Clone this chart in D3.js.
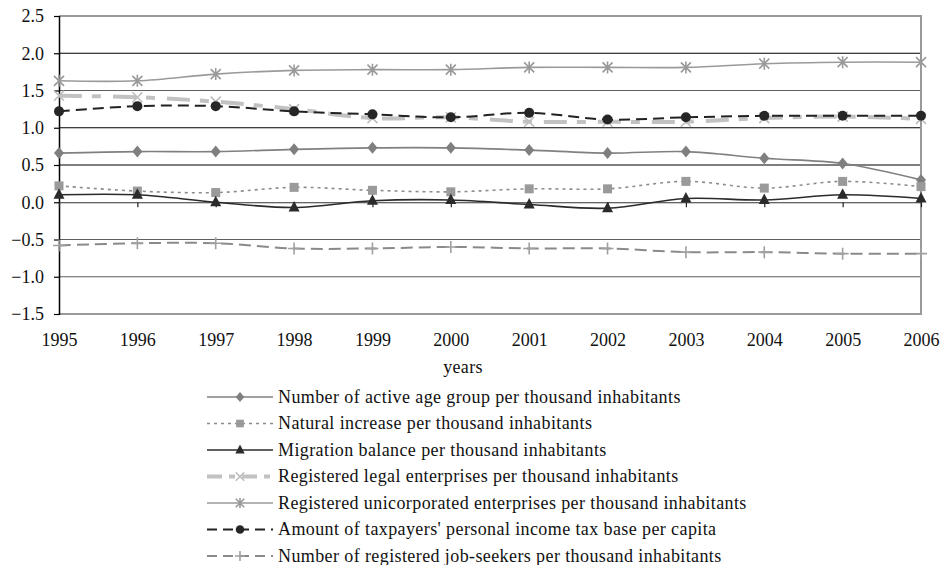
<!DOCTYPE html>
<html>
<head>
<meta charset="utf-8">
<script src="https://cdn.jsdelivr.net/npm/d3@7"></script>
<style>
  html, body { margin: 0; padding: 0; background: #fff; }
  svg { display: block; }
  svg text { font-family: "Liberation Serif", "Times New Roman", serif; }
</style>
</head>
<body>
<svg id="chart" width="942" height="565"></svg>
<script>
// Years on the horizontal axis
const years = [1995, 1996, 1997, 1998, 1999, 2000, 2001, 2002, 2003, 2004, 2005, 2006];

// Indicator series (relative values)
const activeAge      = [0.66, 0.68, 0.68, 0.71, 0.73, 0.73, 0.70, 0.66, 0.68, 0.59, 0.52, 0.30];
const naturalIncr    = [0.22, 0.15, 0.13, 0.20, 0.16, 0.14, 0.18, 0.18, 0.28, 0.19, 0.28, 0.21];
const migration      = [0.10, 0.10, 0.00, -0.07, 0.02, 0.03, -0.03, -0.08, 0.05, 0.03, 0.10, 0.05];
const legalEnt       = [1.43, 1.41, 1.35, 1.25, 1.13, 1.14, 1.08, 1.08, 1.08, 1.13, 1.15, 1.12];
const unincEnt       = [1.63, 1.63, 1.72, 1.77, 1.78, 1.78, 1.81, 1.81, 1.81, 1.86, 1.88, 1.88];
const taxBase        = [1.22, 1.29, 1.29, 1.22, 1.18, 1.14, 1.20, 1.11, 1.14, 1.16, 1.16, 1.16];
const jobSeekers     = [-0.58, -0.55, -0.55, -0.62, -0.62, -0.60, -0.62, -0.62, -0.67, -0.67, -0.69, -0.69];

const seriesNames = [
  "Number of active age group per thousand inhabitants",
  "Natural increase per thousand inhabitants",
  "Migration balance per thousand inhabitants",
  "Registered legal enterprises per thousand inhabitants",
  "Registered unicorporated enterprises per thousand inhabitants",
  "Amount of taxpayers' personal income tax base per capita",
  "Number of registered job-seekers per thousand inhabitants"
];

const yTicks = [-1.5, -1.0, -0.5, 0.0, 0.5, 1.0, 1.5, 2.0, 2.5];
const xTitle = "years";

// Visual styles per series
const styles = [
  { stroke: "#808080", width: 1.6, dash: null,         legendDash: null,       marker: "diamond",  mfill: "#7f7f7f", mstroke: "none" },
  { stroke: "#8c8c8c", width: 1.6, dash: "3,4",        legendDash: "3,4",      marker: "square",   mfill: "#9a9a9a", mstroke: "none" },
  { stroke: "#2b2b2b", width: 1.6, dash: null,         legendDash: null,       marker: "triangle", mfill: "#2b2b2b", mstroke: "none" },
  { stroke: "#c2c2c2", width: 4,   dash: "23,10,9,12", legendDash: "15,7,6,7", marker: "cross",    mfill: "none",    mstroke: "#bdbdbd" },
  { stroke: "#9a9a9a", width: 1.6, dash: null,         legendDash: null,       marker: "asterisk", mfill: "none",    mstroke: "#999999" },
  { stroke: "#222222", width: 2,   dash: "11,6",       legendDash: "10,6",     marker: "circle",   mfill: "#262626", mstroke: "none" },
  { stroke: "#8a8a8a", width: 2,   dash: "12,6",       legendDash: "10,6",     marker: "plus",     mfill: "none",    mstroke: "#a0a0a0" }
];

const seriesValues = [activeAge, naturalIncr, migration, legalEnt, unincEnt, taxBase, jobSeekers];
const series = seriesNames.map((name, i) => ({
  name,
  style: styles[i],
  points: years.map((yr, j) => ({ year: yr, value: seriesValues[i][j] }))
}));

const svg = d3.select("#chart");
const plot = { left: 59, right: 921, top: 16, bottom: 314 };
const serif = "'Liberation Serif', 'Times New Roman', serif";

const x = d3.scaleLinear().domain([1995, 2006]).range([plot.left, plot.right]);
const y = d3.scaleLinear().domain([-1.5, 2.5]).range([plot.bottom, plot.top]);

// Horizontal gridlines
const darkGrid = new Set([2.0, 1.0, 0.5]);
svg.append("g")
  .selectAll("line")
  .data(yTicks.filter(v => v > -1.5 && v < 2.5 && v !== 0))
  .join("line")
  .attr("x1", plot.left).attr("x2", plot.right)
  .attr("y1", d => y(d)).attr("y2", d => y(d))
  .attr("stroke", d => darkGrid.has(d) ? "#000" : "#5e5e5e")
  .attr("stroke-width", 1.2);

// Plot frame (top, right, bottom)
svg.append("path")
  .attr("d", `M${plot.left},${y(2.5)}H${plot.right}V${y(-1.5)}H${plot.left}`)
  .attr("fill", "none")
  .attr("stroke", "#999")
  .attr("stroke-width", 2);

// Y axis
const yAxis = d3.axisLeft(y)
  .tickValues(yTicks)
  .tickFormat(d3.format(".1f"))
  .tickSize(5)
  .tickPadding(10);
const gy = svg.append("g").attr("transform", `translate(${plot.left},0)`).call(yAxis)
  .attr("font-family", serif).attr("font-size", 18);
gy.select(".domain").attr("stroke", "#000").attr("stroke-width", 1.5).attr("d", `M0.5,${plot.top}V${plot.bottom + 1}`);
gy.selectAll(".tick line").attr("stroke", "#000").attr("stroke-width", 1.2);
gy.selectAll("text").attr("fill", "#111");

// Zero line with downward year ticks
const gz = svg.append("g").attr("transform", `translate(0,${y(0)})`)
  .call(d3.axisBottom(x).tickValues(years).tickSize(5).tickFormat(""));
gz.select(".domain").attr("stroke", "#333").attr("stroke-width", 1.2).attr("d", `M${plot.left},0.5H${plot.right}`);
gz.selectAll(".tick line").attr("stroke", "#222").attr("stroke-width", 1.2);

// Year labels below the plot
const gx = svg.append("g").attr("transform", `translate(0,${plot.bottom})`)
  .call(d3.axisBottom(x).tickValues(years).tickFormat(d3.format("d")).tickSize(0).tickPadding(19))
  .attr("font-family", serif).attr("font-size", 18);
gx.select(".domain").remove();
gx.selectAll("text").attr("fill", "#111");

svg.append("text")
  .attr("x", 463).attr("y", 373)
  .attr("text-anchor", "middle")
  .attr("font-size", 18)
  .attr("letter-spacing", 0.3)
  .attr("fill", "#111")
  .text(xTitle);

// Marker drawing
function drawMarker(sel, type, st, k = 1) {
  switch (type) {
    case "diamond":
      sel.append("path").attr("d", `M0,${-6 * k}L${5 * k},0L0,${6 * k}L${-5 * k},0Z`).attr("fill", st.mfill);
      break;
    case "square":
      sel.append("rect").attr("x", -4.5 * k).attr("y", -4.5 * k).attr("width", 9 * k).attr("height", 9 * k).attr("fill", st.mfill);
      break;
    case "triangle":
      sel.append("path").attr("d", `M0,${-6.5 * k}L${5.5 * k},${4 * k}L${-5.5 * k},${4 * k}Z`).attr("fill", st.mfill);
      break;
    case "circle":
      sel.append("circle").attr("r", 5 * k).attr("fill", st.mfill);
      break;
    case "cross":
      sel.append("path").attr("d", `M${-5 * k},${-5 * k}L${5 * k},${5 * k}M${-5 * k},${5 * k}L${5 * k},${-5 * k}`)
        .attr("stroke", st.mstroke).attr("stroke-width", 1.6).attr("fill", "none");
      break;
    case "asterisk":
      sel.append("path").attr("d", `M${-5 * k},${-5 * k}L${5 * k},${5 * k}M${-5 * k},${5 * k}L${5 * k},${-5 * k}M0,${-6 * k}V${6 * k}`)
        .attr("stroke", st.mstroke).attr("stroke-width", 1.6).attr("fill", "none");
      break;
    case "plus":
      sel.append("path").attr("d", `M${-6 * k},0H${6 * k}M0,${-6 * k}V${6 * k}`)
        .attr("stroke", st.mstroke).attr("stroke-width", 1.6).attr("fill", "none");
      break;
  }
}

// Series lines (smoothed) and markers
const line = d3.line()
  .x(d => x(d.year))
  .y(d => y(d.value))
  .curve(d3.curveCardinal.tension(0));

const drawOrder = [6, 0, 1, 2, 4, 3, 5];
drawOrder.forEach(i => {
  const s = series[i];
  const g = svg.append("g");
  g.append("path")
    .datum(s.points)
    .attr("d", line)
    .attr("fill", "none")
    .attr("stroke", s.style.stroke)
    .attr("stroke-width", s.style.width)
    .attr("stroke-dasharray", s.style.dash);
  g.selectAll("g.m")
    .data(s.points)
    .join("g")
    .attr("class", "m")
    .attr("transform", d => `translate(${x(d.year)},${y(d.value)})`)
    .each(function () { drawMarker(d3.select(this), s.style.marker, s.style); });
});

// Legend
const legend = svg.append("g").attr("transform", "translate(207,397)");
const rowH = 26.5;
series.forEach((s, i) => {
  const row = legend.append("g").attr("transform", `translate(0,${i * rowH})`);
  row.append("line")
    .attr("x1", 0).attr("x2", 66).attr("y1", 0).attr("y2", 0)
    .attr("stroke", s.style.stroke)
    .attr("stroke-width", s.style.width)
    .attr("stroke-dasharray", s.style.legendDash);
  const m = row.append("g").attr("transform", "translate(33,0)");
  drawMarker(m, s.style.marker, s.style, 0.85);
  row.append("text")
    .attr("x", 71).attr("y", 0).attr("dy", "0.33em")
    .attr("font-size", 18)
    .attr("letter-spacing", 0.4)
    .attr("fill", "#111")
    .text(s.name);
});
</script>
</body>
</html>
